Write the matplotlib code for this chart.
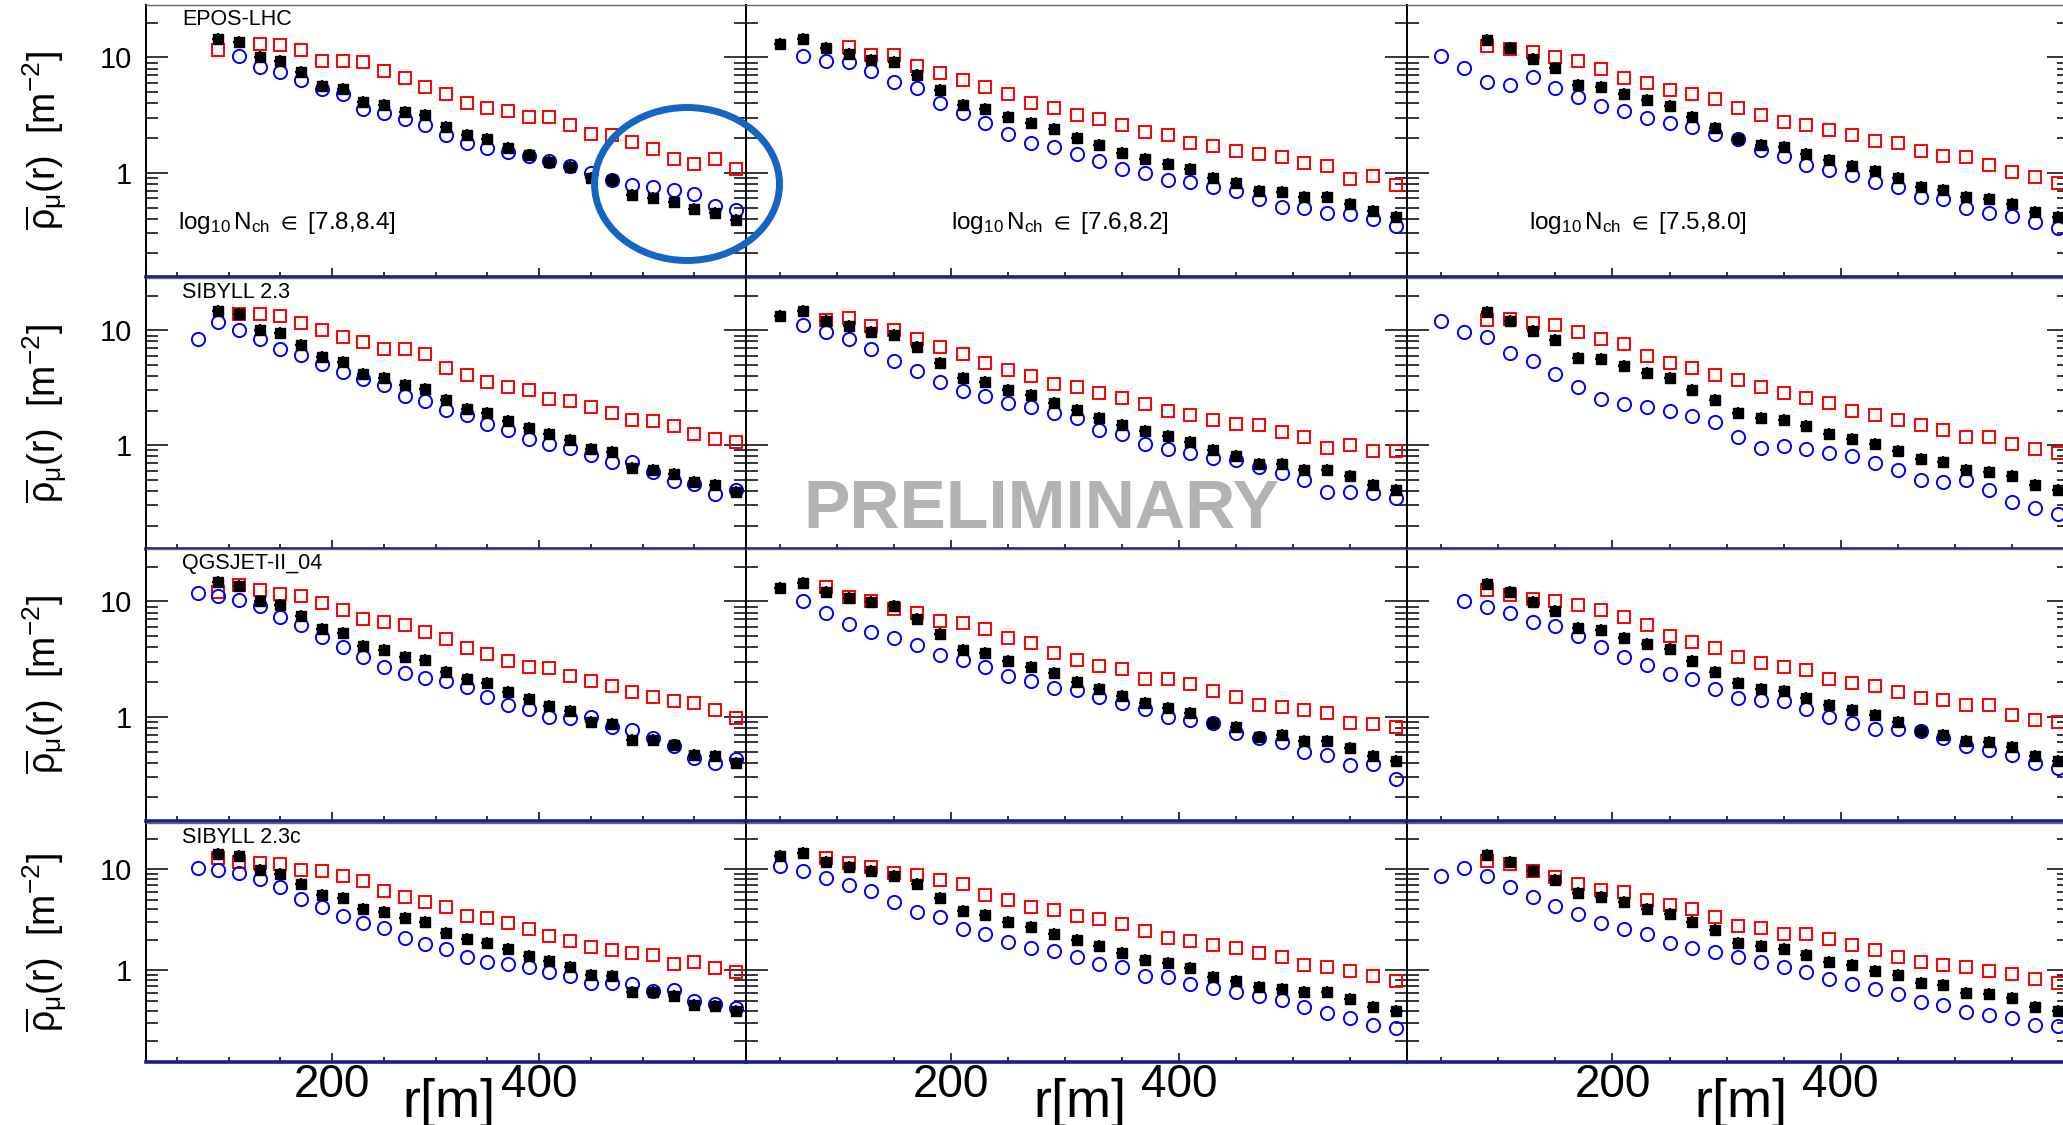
import numpy as np
import matplotlib
matplotlib.use("Agg")
import matplotlib.pyplot as plt
from matplotlib.patches import Ellipse
from matplotlib.ticker import (FixedLocator, FixedFormatter, MultipleLocator,
                               LogLocator, NullFormatter)

plt.rcParams['font.family'] = ['Liberation Sans', 'DejaVu Sans']
plt.rcParams['mathtext.fontset'] = 'custom'
plt.rcParams['mathtext.rm'] = 'Liberation Sans'
plt.rcParams['mathtext.it'] = 'Liberation Sans:italic'
plt.rcParams['mathtext.bf'] = 'Liberation Sans:bold'
plt.rcParams['mathtext.default'] = 'regular'

# radial bin centres [m]
r = [50, 70, 90, 110, 130, 150, 170, 190, 210, 230, 250, 270, 290, 310,
     330, 350, 370, 390, 410, 430, 450, 470, 490, 510, 530, 550, 570, 590]

models = ['EPOS-LHC', 'SIBYLL 2.3', 'QGSJET-II_04', 'SIBYLL 2.3c']
nch_bins = [r'$\log_{10}N_{ch}$ $\in$ [7.8,8.4]',
            r'$\log_{10}N_{ch}$ $\in$ [7.6,8.2]',
            r'$\log_{10}N_{ch}$ $\in$ [7.5,8.0]']

# muon densities [m^-2]; every series ends at r = 590 m, leading bins empty
# data = black, prot = blue circles, iron = red squares
# --- EPOS-LHC
epos_data_1 = [14.6, 13.7, 10.0, 9.36, 7.51, 5.64, 5.28, 4.13, 3.86, 3.38, 3.16, 2.50, 2.12,
               1.98, 1.63, 1.42, 1.25, 1.13, 0.91, 0.86, 0.64, 0.61, 0.56, 0.49, 0.45, 0.39]
epos_prot_1 = [10.3, 8.30, 7.51, 6.36, 5.28, 4.78, 3.61, 3.27, 2.90, 2.59, 2.12, 1.80, 1.65,
               1.52, 1.40, 1.26, 1.15, 1.0, 0.86, 0.79, 0.76, 0.71, 0.66, 0.52, 0.48]
epos_iron_1 = [11.7, None, 13.2, 12.8, 11.7, 9.36, 9.36, 9.05, 7.62, 6.58, 5.57, 4.81, 4.07,
               3.68, 3.43, 3.02, 3.02, 2.59, 2.19, 2.12, 1.86, 1.60, 1.31, 1.19, 1.31, 1.07]
epos_data_2 = [13.2, 14.6, 12.0, 10.8, 9.6, 9.05, 7.03, 5.21, 3.86, 3.61, 3.02, 2.71, 2.38,
               2.01, 1.74, 1.50, 1.31, 1.19, 1.07, 0.91, 0.82, 0.69, 0.68, 0.62, 0.62, 0.54,
               0.47, 0.41]
epos_prot_2 = [10.3, 9.3, 9.17, 7.62, 6.15, 5.39, 4.07, 3.31, 2.68, 2.19, 1.83, 1.68, 1.45,
               1.26, 1.07, 1.0, 0.86, 0.84, 0.75, 0.69, 0.59, 0.51, 0.50, 0.45, 0.44, 0.40, 0.345]
epos_iron_2 = [12.4, 10.5, 10.5, 8.47, 7.36, 6.36, 5.57, 4.81, 4.07, 3.68, 3.20, 2.92, 2.62,
               2.27, 2.12, 1.83, 1.71, 1.54, 1.45, 1.36, 1.22, 1.15, 0.89, 0.94, 0.78]
epos_data_3 = [14.3, 12.0, 9.68, 8.13, 5.75, 5.57, 4.87, 4.27, 3.78, 3.02, 2.47, 1.98, 1.74,
               1.68, 1.45, 1.29, 1.15, 1.03, 0.91, 0.76, 0.71, 0.62, 0.59, 0.54, 0.46, 0.415]
epos_prot_3 = [10.3, 8.03, 6.15, 5.75, 6.80, 5.39, 4.56, 3.78, 3.43, 3.00, 2.68, 2.50, 2.16,
               1.95, 1.59, 1.39, 1.18, 1.05, 0.95, 0.84, 0.76, 0.62, 0.59, 0.50, 0.45, 0.42,
               0.376, 0.33]
epos_iron_3 = [12.6, 11.8, 11.2, 10.0, 9.3, 7.87, 6.58, 5.95, 5.21, 4.81, 4.35, 3.68, 3.20,
               2.77, 2.59, 2.34, 2.12, 1.89, 1.80, 1.55, 1.40, 1.36, 1.18, 1.02, 0.92, 0.81]
# --- SIBYLL 2.3
sib_data_1 = [14.7, 13.8, 10.1, 9.48, 7.41, 5.86, 5.31, 4.14, 3.85, 3.32, 3.11, 2.46, 2.08,
              1.91, 1.63, 1.42, 1.25, 1.12, 0.92, 0.875, 0.63, 0.61, 0.56, 0.48, 0.45, 0.39]
sib_prot_1 = [8.47, 11.8, 10.0, 8.35, 6.84, 6.14, 5.13, 4.34, 3.75, 3.32, 2.69, 2.43, 2.04,
              1.82, 1.54, 1.35, 1.13, 1.02, 0.95, 0.82, 0.72, 0.72, 0.59, 0.49, 0.46, 0.375, 0.41]
sib_iron_1 = [13.8, 13.8, 13.2, 11.6, 10.1, 8.75, 7.92, 6.84, 6.84, 6.18, 4.70,
              4.06, 3.55, 3.21, 3.01, 2.51, 2.43, 2.13, 1.92, 1.65, 1.62, 1.46, 1.26, 1.14, 1.07]
sib_data_2 = [13.3, 14.7, 12.1, 10.8, 9.67, 9.05, 7.16, 5.20, 3.85, 3.55, 3.05, 2.72, 2.35,
              2.01, 1.74, 1.51, 1.32, 1.20, 1.07, 0.905, 0.81, 0.68, 0.69, 0.61, 0.61, 0.54,
              0.455, 0.41]
sib_prot_2 = [11.2, 9.67, 8.47, 6.84, 5.41, 4.40, 3.55, 2.97, 2.69, 2.35, 2.13, 1.91, 1.71,
              1.35, 1.26, 1.03, 0.92, 0.86, 0.78, 0.74, 0.65, 0.57, 0.50, 0.39, 0.39, 0.385, 0.35]
sib_iron_2 = [12.2, 12.9, 10.9, 10.0, 8.47, 7.16, 6.18, 5.23, 4.55, 3.98, 3.44, 3.21, 2.87,
              2.55, 2.27, 1.98, 1.85, 1.65, 1.54, 1.51, 1.31, 1.18, 0.95, 1.0, 0.89, 0.89]
sib_data_3 = [14.4, 12.1, 9.8, 8.19, 5.78, 5.60, 4.86, 4.26, 3.85, 3.01, 2.46, 1.92, 1.74,
              1.67, 1.46, 1.26, 1.14, 1.03, 0.89, 0.76, 0.71, 0.61, 0.59, 0.54, 0.45, 0.41]
sib_prot_3 = [12.0, 9.67, 8.75, 6.40, 5.41, 4.20, 3.21, 2.51, 2.27, 2.13, 1.98, 1.79, 1.60,
              1.18, 0.95, 0.99, 0.92, 0.86, 0.81, 0.70, 0.61, 0.50, 0.48, 0.50, 0.41, 0.32,
              0.285, 0.25]
sib_iron_3 = [12.4, 12.6, 11.6, 11.2, 9.67, 8.47, 7.66, 5.98, 5.23, 4.70, 4.11, 3.67, 3.21,
              2.87, 2.55, 2.35, 1.98, 1.85, 1.65, 1.51, 1.35, 1.18, 1.18, 1.02, 0.92, 0.86]
# --- QGSJET-II_04
qgs_data_1 = [14.8, 13.7, 10.0, 9.36, 7.51, 5.83, 5.28, 4.13, 3.78, 3.31, 3.10, 2.47, 2.12,
              1.95, 1.65, 1.42, 1.23, 1.13, 0.91, 0.875, 0.63, 0.63, 0.57, 0.47, 0.46, 0.40]
qgs_prot_1 = [11.8, 11.2, 10.3, 9.17, 7.36, 6.28, 4.94, 4.07, 3.31, 2.71, 2.42, 2.19, 2.05,
              1.82, 1.50, 1.26, 1.18, 1.0, 0.97, 0.99, 0.81, 0.77, 0.66, 0.56, 0.44, 0.40, 0.43]
qgs_iron_1 = [12.1, 14.0, 12.5, 11.6, 11.2, 9.68, 8.41, 7.03, 6.66, 6.24, 5.39, 4.71, 3.94,
              3.49, 3.02, 2.71, 2.63, 2.27, 2.05, 1.86, 1.63, 1.50, 1.36, 1.31, 1.15, 0.97]
qgs_data_2 = [13.2, 14.6, 12.0, 10.8, 9.8, 9.05, 7.03, 5.21, 3.81, 3.61, 3.02, 2.73, 2.38,
              2.01, 1.74, 1.52, 1.33, 1.20, 1.09, 0.89, 0.82, 0.67, 0.69, 0.62, 0.62, 0.54,
              0.46, 0.41]
qgs_prot_2 = [10.0, 7.92, 6.36, 5.39, 4.81, 4.21, 3.43, 3.10, 2.68, 2.27, 2.05, 1.77, 1.71,
              1.49, 1.33, 1.16, 0.99, 0.94, 0.88, 0.72, 0.65, 0.60, 0.50, 0.47, 0.38, 0.39, 0.29]
qgs_iron_2 = [13.4, 11.0, 10.0, 8.69, 7.92, 6.80, 6.45, 5.75, 4.81, 4.35, 3.54, 3.10, 2.77,
              2.62, 2.12, 2.12, 1.92, 1.68, 1.50, 1.26, 1.22, 1.14, 1.07, 0.89, 0.86, 0.81]
qgs_data_3 = [14.3, 12.1, 9.8, 8.30, 5.87, 5.64, 4.87, 4.27, 3.84, 3.02, 2.47, 1.95, 1.74,
              1.68, 1.47, 1.27, 1.15, 1.04, 0.91, 0.76, 0.70, 0.62, 0.60, 0.55, 0.46, 0.415]
qgs_prot_3 = [10.0, 8.99, 7.87, 6.58, 6.15, 4.97, 4.07, 3.31, 2.81, 2.34, 2.12, 1.73, 1.45,
              1.40, 1.36, 1.18, 0.99, 0.89, 0.78, 0.79, 0.75, 0.65, 0.56, 0.52, 0.47, 0.40, 0.36]
qgs_iron_3 = [12.6, 11.4, 10.5, 10.0, 9.36, 8.41, 7.36, 6.24, 5.04, 4.41, 3.94, 3.31, 2.92,
              2.71, 2.54, 2.12, 1.98, 1.86, 1.63, 1.45, 1.40, 1.27, 1.27, 1.03, 0.94, 0.91]
# --- SIBYLL 2.3c
sibc_data_1 = [14.1, 13.5, 9.85, 8.93, 7.13, 5.60, 5.20, 4.08, 3.79, 3.31, 3.0, 2.32, 2.03,
               1.85, 1.62, 1.39, 1.24, 1.09, 0.91, 0.88, 0.61, 0.61, 0.56, 0.46, 0.45, 0.40]
sibc_prot_1 = [10.2, 9.85, 9.14, 8.04, 6.66, 5.08, 4.21, 3.44, 2.95, 2.64, 2.07, 1.84, 1.64,
               1.36, 1.22, 1.15, 1.09, 0.955, 0.89, 0.76, 0.75, 0.73, 0.63, 0.64, 0.50, 0.47, 0.43]
sibc_iron_1 = [12.8, 11.7, 11.5, 11.2, 9.85, 9.63, 8.47, 7.57, 6.04, 5.27, 4.75, 4.21, 3.44,
               3.31, 2.95, 2.54, 2.19, 1.95, 1.72, 1.60, 1.48, 1.42, 1.17, 1.22, 1.05, 0.955]
sibc_data_2 = [13.5, 14.4, 11.7, 10.4, 9.63, 8.6, 7.13, 5.20, 3.85, 3.49, 3.02, 2.68, 2.27,
               1.98, 1.75, 1.50, 1.27, 1.18, 1.05, 0.87, 0.79, 0.69, 0.66, 0.61, 0.61, 0.52,
               0.44, 0.40]
sibc_prot_2 = [10.8, 9.63, 8.16, 7.02, 6.04, 4.75, 3.76, 3.36, 2.54, 2.27, 1.92, 1.66, 1.54,
               1.36, 1.17, 1.09, 0.89, 0.87, 0.73, 0.67, 0.62, 0.56, 0.51, 0.44, 0.38, 0.34,
               0.29, 0.27]
sibc_iron_2 = [13.0, 11.5, 10.4, 9.14, 8.8, 7.86, 7.13, 5.52, 4.93, 4.24, 3.91, 3.44, 3.24,
               2.85, 2.45, 2.11, 1.95, 1.79, 1.66, 1.48, 1.36, 1.13, 1.09, 0.99, 0.89, 0.79]
sibc_data_3 = [13.8, 11.7, 9.63, 7.86, 5.82, 5.31, 4.75, 4.08, 3.57, 3.0, 2.49, 1.85, 1.75,
               1.62, 1.42, 1.22, 1.13, 0.99, 0.90, 0.76, 0.72, 0.60, 0.59, 0.54, 0.44, 0.40]
sibc_prot_3 = [8.47, 10.2, 8.47, 6.66, 5.27, 4.37, 3.57, 2.95, 2.54, 2.27, 1.85, 1.66, 1.52,
               1.36, 1.20, 1.07, 0.955, 0.82, 0.73, 0.65, 0.58, 0.49, 0.46, 0.39, 0.365, 0.34,
               0.29, 0.28]
sibc_iron_3 = [12.1, 11.2, 9.49, 8.28, 7.13, 6.27, 5.90, 4.93, 4.40, 4.08, 3.36, 2.74, 2.64,
               2.27, 2.27, 2.03, 1.79, 1.60, 1.36, 1.22, 1.13, 1.09, 0.99, 0.92, 0.82, 0.76]

panels = [
    [(epos_data_1, epos_prot_1, epos_iron_1), (epos_data_2, epos_prot_2, epos_iron_2),
     (epos_data_3, epos_prot_3, epos_iron_3)],
    [(sib_data_1, sib_prot_1, sib_iron_1), (sib_data_2, sib_prot_2, sib_iron_2),
     (sib_data_3, sib_prot_3, sib_iron_3)],
    [(qgs_data_1, qgs_prot_1, qgs_iron_1), (qgs_data_2, qgs_prot_2, qgs_iron_2),
     (qgs_data_3, qgs_prot_3, qgs_iron_3)],
    [(sibc_data_1, sibc_prot_1, sibc_iron_1), (sibc_data_2, sibc_prot_2, sibc_iron_2),
     (sibc_data_3, sibc_prot_3, sibc_iron_3)],
]


def pad(vals):
    """left-pad a series with NaN so it lines up with r (all end at 590 m)"""
    v = np.array([np.nan if x is None else x for x in vals], dtype=float)
    return np.concatenate([np.full(len(r) - len(v), np.nan), v])


W, H = 2063, 1125
NAVY = '#1c1c8c'
col_px = [(146, 746), (746, 1407), (1407, 2069)]
row_px = [(5, 277), (278, 549), (549, 821), (823, 1062)]
nch_xpos = [0.053, 0.31, 0.184]

fig = plt.figure(figsize=(W / 100, H / 100), dpi=100)

for i, (y0, y1) in enumerate(row_px):
    for j, (x0, x1) in enumerate(col_px):
        ax = fig.add_axes([x0 / W, 1 - y1 / H, (x1 - x0) / W, (y1 - y0) / H])
        data, prot, iron = (pad(s) for s in panels[i][j])

        ax.plot(r, iron, ls='none', marker='s', ms=9.3, mfc='none', mec='red',
                mew=1.4, zorder=2)
        ax.plot(r, prot, ls='none', marker='o', ms=9.5, mfc='none', mec='blue',
                mew=1.4, zorder=3)
        ax.plot(r, data, ls='none', marker='+', ms=9, mew=1.6, color='black', zorder=4)
        ax.plot(r, data, ls='none', marker='s', ms=6.5, color='black', zorder=4)

        ax.set_yscale('log')
        ax.set_xlim(20, 600)
        ax.set_ylim(0.125, 28.5)

        ax.xaxis.set_major_locator(FixedLocator([200, 400]))
        ax.xaxis.set_minor_locator(MultipleLocator(50))
        ax.yaxis.set_major_locator(FixedLocator([1, 10]))
        ax.yaxis.set_minor_locator(LogLocator(base=10, subs=np.arange(2, 10), numticks=20))
        ax.xaxis.set_minor_formatter(NullFormatter())
        ax.yaxis.set_minor_formatter(NullFormatter())
        if j == 0:
            ax.yaxis.set_major_formatter(FixedFormatter(['1', '10']))
        else:
            ax.yaxis.set_major_formatter(NullFormatter())
        if i == len(row_px) - 1:
            ax.xaxis.set_major_formatter(FixedFormatter(['200', '400']))
        else:
            ax.xaxis.set_major_formatter(NullFormatter())

        ax.tick_params(axis='y', which='both', direction='in', left=True, right=True,
                       width=1.1, labelsize=21, pad=10)
        ax.tick_params(axis='y', which='major', length=16)
        ax.tick_params(axis='y', which='minor', length=8.5)
        ax.tick_params(axis='x', which='both', direction='in', bottom=True, top=False,
                       width=1.1, labelsize=33, pad=0.5)
        ax.tick_params(axis='x', which='major', length=6.5)
        ax.tick_params(axis='x', which='minor', length=3.6)

        ax.spines['bottom'].set_color(NAVY)
        ax.spines['bottom'].set_linewidth(2.6)
        ax.spines['top'].set_color('#666666')
        ax.spines['top'].set_linewidth(1.0)
        for s in ('left', 'right'):
            ax.spines[s].set_color('black')
            ax.spines[s].set_linewidth(1.4)

        if j == 0:
            ax.annotate(models[i], xy=(0, 1), xycoords='axes fraction',
                        xytext=(26, -3), textcoords='offset points',
                        ha='left', va='top', fontsize=15.5)
            fig.text(45 / W, 1 - (y0 + y1) / 2 / H,
                     r'$\overline{\rho}_{\mu}(r)\ \ [m^{-2}]$',
                     rotation=90, ha='center', va='center', fontsize=27)
        if i == 0:
            ax.text(nch_xpos[j], 0.2, nch_bins[j], transform=ax.transAxes,
                    ha='left', va='center', fontsize=17.5)
        if i == len(row_px) - 1:
            ax.text(0.505, -(1103 - y1) / (y1 - y0), 'r[m]', transform=ax.transAxes,
                    ha='center', va='center', fontsize=39)

fig.text(1041 / W, 1 - 510 / H, 'PRELIMINARY', fontsize=50, fontweight='bold',
         color='#b3b3b3', ha='center', va='center', zorder=10)

ring = Ellipse((687 / W, 1 - 184 / H), 185 / W, 153 / H, transform=fig.transFigure,
               fill=False, edgecolor='#1466c4', linewidth=5, zorder=20)
fig.patches.append(ring)

fig.savefig('out.png', dpi=100)
